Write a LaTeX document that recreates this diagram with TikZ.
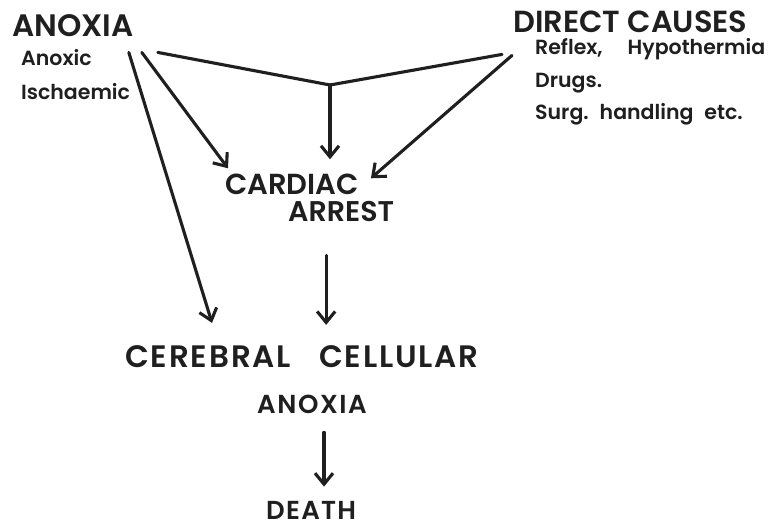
\documentclass[tikz,border=0pt]{standalone}
\usepackage{fontspec}
\setmainfont{Poppins}[BoldFont={Poppins SemiBold}]
\usetikzlibrary{arrows.meta,calc}
\colorlet{Ink}{black!88}

\begin{document}
\begin{tikzpicture}[x=1pt,y=-1pt,
    big/.style={anchor=base west,inner sep=0pt,text=Ink,font=\bfseries\fontsize{31}{36}\selectfont},
    mid/.style={big,font=\bfseries\fontsize{28.5}{34}\selectfont},
    lowbig/.style={big,font=\bfseries\fontsize{26}{31}\selectfont\addfontfeatures{LetterSpace=6}},
    small/.style={anchor=base west,inner sep=0pt,text=Ink,font=\bfseries\fontsize{20.5}{24}\selectfont},
    link/.style={draw=Ink,line width=3.1pt,line cap=round},
    arr/.style={link,-{Straight Barb[length=11pt,width=18pt]}}]
  \useasboundingbox[fill=white] (0,0) rectangle (774,529);

  % Causes at the top.
  \node[big] (anox) at (12,37) {ANOXIA};
  \node[small] (anoxic) at (21,66) {Anoxic};
  \node[small] (isch) at (21,100) {Ischaemic};
  \node[mid,font=\bfseries\fontsize{30.5}{35}\selectfont] (direct) at (513,33) {DIRECT CAUSES};
  \node[small] (reflex) at (535,55) {Reflex,\hspace{25pt}Hypothermia};
  \node[small] (drugs) at (535,88) {Drugs.};
  \node[small] (surg) at (535,120) {Surg.\hspace{11pt}handling\hspace{11pt}etc.};

  % Chain down to death.
  \node[big,font=\bfseries\fontsize{29}{34}\selectfont] (cardiac) at (225,195) {CARDIAC};
  \node[mid] (arrest) at (288,222) {ARREST};
  \node[big,font=\bfseries\fontsize{31}{36}\selectfont\addfontfeatures{LetterSpace=6}] (cereb) at (125,367)
    {CEREBRAL\hspace{28pt}CELLULAR};
  \node[lowbig] (anox2) at (257,413) {ANOXIA};
  \node[mid,font=\bfseries\fontsize{26}{31}\selectfont\addfontfeatures{LetterSpace=5}] (death) at (266,519) {DEATH};

  % Both causes meet, then go down to the arrest.
  \coordinate (j) at (330,85);
  \draw[link] ($(anox.south east)+(24,15)$) -- (j);
  \draw[link] ($(direct.south west)+(-11,21)$) -- (j);
  \draw[arr] (j) -- ($(j |- cardiac.north)+(0,-15)$);
  \draw[arr] ($(anox.south east)+(8,15)$) -- ($(cardiac.north west)+(3,-6)$);
  \draw[arr] ($(anox.south east)+(-5,15)$) -- ($(cereb.north west)+(87,-22)$);
  \draw[arr] ($(direct.south west)+(-1,22)$) -- ($(cardiac.north east)+(12,4)$);

  % Lower chain.
  \coordinate (s1) at ($(arrest.south)+(-15,33)$);
  \draw[arr] (s1) -- ($(s1 |- cereb.north)+(0,-20)$);
  \coordinate (s2) at ($(anox2.south)+(12,19)$);
  \draw[arr] (s2) -- ($(s2 |- death.north)+(0,-14)$);
\end{tikzpicture}
\end{document}
